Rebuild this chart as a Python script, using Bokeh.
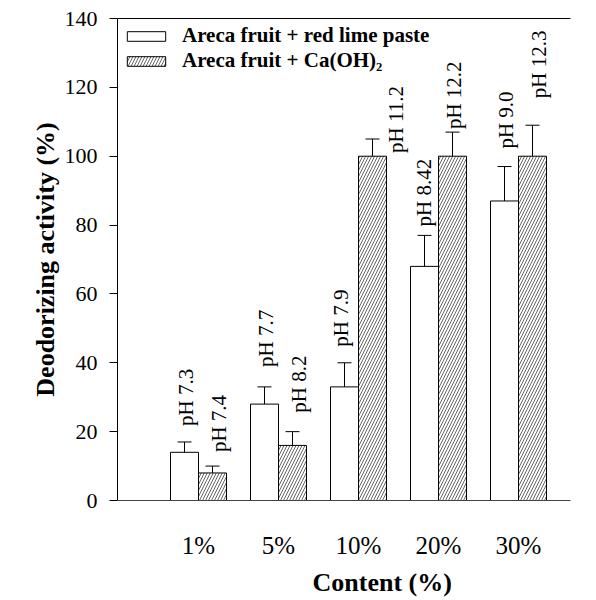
import math
from bokeh.plotting import figure
from bokeh.models import (ColumnDataSource, Whisker, TeeHead, LinearAxis, Legend,
                          LegendItem, Title, FixedTicker, Range1d)
from bokeh.core.properties import value
from bokeh.embed import file_html
from bokeh.resources import INLINE

# ---- data ----
categories = ["1%", "5%", "10%", "20%", "30%"]
red_lime = [14, 28, 33, 68, 87]
red_lime_err = [3, 5, 7, 9, 10]
red_lime_ph = ["pH 7.3", "pH 7.7", "pH 7.9", "pH 8.42", "pH 9.0"]
caoh = [8, 16, 100, 100, 100]
caoh_err = [2, 4, 5, 7, 9]
caoh_ph = ["pH 7.4", "pH 8.2", "pH 11.2", "pH 12.2", "pH 12.3"]
y_ticks = [0, 20, 40, 60, 80, 100, 120, 140]

# ---- layout (label nudges in pixels) ----
red_dx = [1, 1, -4, -1, 1]
red_gap = [16, 20, 16, 9, 18]
ca_dx = [6, 6, 23, 1, 6]
ca_gap = [14, 19, -14, 3, 27]

FONT = "Liberation Serif"
BW = 0.35
xs = [i + 1 for i in range(len(categories))]

src_a = ColumnDataSource(dict(
    x=[x - BW / 2 for x in xs], top=red_lime,
    lo=[v - e for v, e in zip(red_lime, red_lime_err)],
    hi=[v + e for v, e in zip(red_lime, red_lime_err)],
    txt=red_lime_ph, dx=red_dx, dy=[-g for g in red_gap]))
src_b = ColumnDataSource(dict(
    x=[x + BW / 2 for x in xs], top=caoh,
    lo=[v - e for v, e in zip(caoh, caoh_err)],
    hi=[v + e for v, e in zip(caoh, caoh_err)],
    txt=caoh_ph, dx=ca_dx, dy=[-g for g in ca_gap]))

p = figure(width=596, height=600, output_backend="svg", toolbar_location=None,
           x_range=Range1d(-0.0125, 5.65), y_range=Range1d(0, 140),
           min_border_left=117, min_border_right=26, min_border_top=18,
           min_border_bottom=100)
p.outline_line_color = None
p.grid.visible = False
p.background_fill_color = "white"
p.border_fill_color = "white"

r_a = p.vbar(x="x", top="top", width=BW, source=src_a, fill_color="white",
             line_color="black", line_width=1)
r_b = p.vbar(x="x", top="top", width=BW, source=src_b, fill_color="white",
             line_color="black", line_width=1,
             hatch_pattern="right_diagonal_line", hatch_color="#666666",
             hatch_scale=6, hatch_weight=1)

for s in (src_a, src_b):
    w = Whisker(source=s, base="x", lower="lo", upper="hi", line_color="black",
                line_width=1,
                lower_head=TeeHead(size=14, line_color="black", line_width=1),
                upper_head=TeeHead(size=14, line_color="black", line_width=1))
    p.add_layout(w)
    p.text(x="x", y="hi", text="txt", source=s, angle=math.pi / 2,
           x_offset="dx", y_offset="dy", text_align="left",
           text_baseline="middle", text_font=value(FONT),
           text_font_size="21px", text_color="black")

# y axis
ya = p.yaxis[0]
ya.ticker = FixedTicker(ticks=y_ticks)
ya.minor_tick_line_color = None
ya.major_tick_in = 0
ya.major_tick_out = 8
ya.major_label_standoff = 12
ya.major_label_text_font = FONT
ya.major_label_text_font_size = "22px"
ya.major_label_text_color = "black"
ya.axis_label = "Deodorizing activity (%)"
ya.axis_label_text_font = FONT
ya.axis_label_text_font_style = "bold"
ya.axis_label_text_font_size = "26px"
ya.axis_label_text_color = "black"
ya.axis_label_standoff = 2
ya.axis_line_color = "black"

# x axis
xa = p.xaxis[0]
xa.ticker = FixedTicker(ticks=xs)
xa.major_label_overrides = {x: c for x, c in zip(xs, categories)}
xa.major_tick_line_color = None
xa.minor_tick_line_color = None
xa.major_label_standoff = 25
xa.major_label_text_font = FONT
xa.major_label_text_font_size = "25px"
xa.major_label_text_color = "black"
xa.axis_line_color = "#444444"

# top frame line
top = LinearAxis(ticker=FixedTicker(ticks=[]), major_tick_line_color=None,
                 minor_tick_line_color=None, axis_line_color="black")
p.add_layout(top, "above")

# x-axis title, shifted right of the frame centre as in the reference
p.add_layout(Title(text="Content (%)", align="left", offset=195, standoff=8,
                   text_font=FONT, text_font_style="bold",
                   text_font_size="26px", text_color="black"), "below")

legend = Legend(items=[LegendItem(label="Areca fruit + red lime paste", renderers=[r_a]),
                       LegendItem(label="Areca fruit + Ca(OH)\u2082", renderers=[r_b])],
                location="top_left", glyph_width=48, glyph_height=12,
                label_standoff=12, spacing=0, padding=0, margin=5,
                border_line_color=None, background_fill_alpha=0,
                label_text_font=FONT, label_text_font_style="bold",
                label_text_font_size="21px", label_text_color="black")
p.add_layout(legend)

open("out.html", "w").write(file_html(p, INLINE))
